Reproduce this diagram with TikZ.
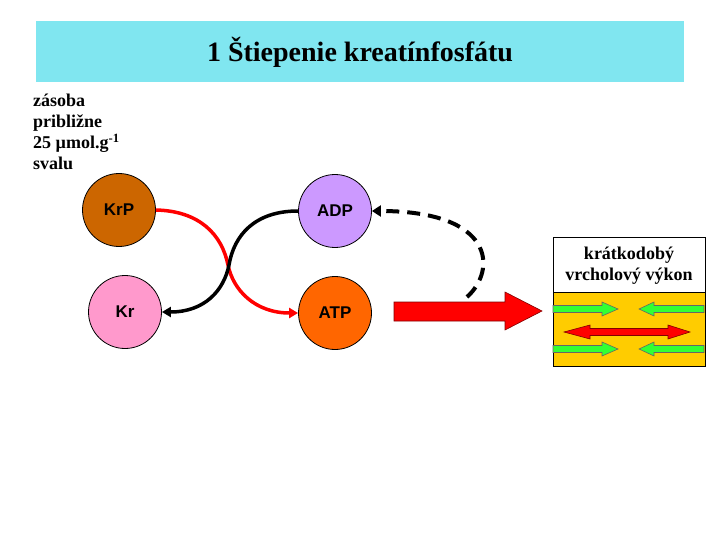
\documentclass[tikz,border=0pt]{standalone}
\usepackage{fontspec}
\setmainfont{Liberation Serif}
\setsansfont{Liberation Sans}
\usepackage{tikz}
\usetikzlibrary{arrows.meta}
\definecolor{nadpiscyan}{RGB}{128,230,240}
\definecolor{krpbrown}{RGB}{204,102,0}
\definecolor{krpink}{RGB}{255,153,204}
\definecolor{adplila}{RGB}{204,153,255}
\definecolor{atporange}{RGB}{255,102,0}
\definecolor{vykonzlta}{RGB}{255,204,0}
\definecolor{svalzelena}{RGB}{51,255,51}

\begin{document}
\begin{tikzpicture}[x=1pt, y=-1pt,
    latka/.style={circle, draw, line width=0.8pt, minimum size=73pt, inner sep=0pt,
        font=\sffamily\bfseries\fontsize{17}{20}\selectfont},
    reakcia/.style={line width=3.5pt, -{Triangle[length=9pt,width=10pt]}},
    popis/.style={font=\bfseries\fontsize{18}{21}\selectfont, inner sep=0pt}]
    \useasboundingbox (0,0) rectangle (720,540);

    % Title bar
    \fill[nadpiscyan] (36,21) rectangle (684,82);
    \node[anchor=base, inner sep=0pt, font=\bfseries\fontsize{28}{30}\selectfont] (nadpis) at (360,62) {1 Štiepenie kreatínfosfátu};

    % Note on the left
    \node[popis, anchor=north west, align=left] (zasoba) at (33,94) {zásoba\\približne\\25 µmol.g\textsuperscript{-1}\\svalu};

    % Substances
    \node[latka, fill=krpbrown] (krp) at (119,210) {KrP};
    \node[latka, fill=krpink] (kr) at (125,312) {Kr};
    \node[latka, fill=adplila] (adp) at (335,211) {ADP};
    \node[latka, fill=atporange] (atp) at (335,313) {ATP};

    % Coupled reactions
    \draw[reakcia, red] (krp.east) .. controls (200,211) and (222,235) .. (228,265)
        .. controls (233,290) and (255,313) .. (atp.west);
    \draw[reakcia, black] (adp.west) .. controls (255,211) and (234,235) .. (229,265)
        .. controls (224,290) and (205,312) .. (kr.east);

    % Recovery of ADP (dashed)
    \coordinate (navrat) at (467,297);
    \draw[line width=4pt, dash pattern=on 13pt off 8pt, -{Triangle[length=9pt,width=11pt]}]
        (navrat) .. controls (497,270) and (495,211) .. (adp.east);

    % Big red arrow
    \filldraw[fill=red, draw=red!50!black, line width=0.6pt]
        (394,302) -- (505,302) -- (505,292) -- (542,311) -- (505,330) -- (505,321) -- (394,321) -- cycle;

    % Box: short peak performance
    \fill[vykonzlta] (553,292) rectangle (705,366);
    \draw[line width=0.8pt] (553,237) rectangle (705,366);
    \draw[line width=0.8pt] (553,292) -- (705,292);
    \node[popis, align=center] (vykon) at (629,266) {krátkodobý\\vrcholový výkon};

    % Green arrows (two rows)
    \foreach \y in {309,349} {
        \filldraw[fill=svalzelena, draw=black!60, line width=0.6pt]
            (553,\y-3.5) -- (602,\y-3.5) -- (602,\y-7) -- (618,\y) -- (602,\y+7) -- (602,\y+3.5) -- (553,\y+3.5) -- cycle;
        \filldraw[fill=svalzelena, draw=black!60, line width=0.6pt]
            (704,\y-3.5) -- (654,\y-3.5) -- (654,\y-7) -- (639,\y) -- (654,\y+7) -- (654,\y+3.5) -- (704,\y+3.5) -- cycle;
    }
    % Red double arrow
    \filldraw[fill=red, draw=red!50!black, line width=0.6pt]
        (564,332) -- (590,325) -- (590,328.5) -- (668,328.5) -- (668,325) -- (690,332)
        -- (668,339) -- (668,335.5) -- (590,335.5) -- (590,339) -- cycle;
\end{tikzpicture}
\end{document}
